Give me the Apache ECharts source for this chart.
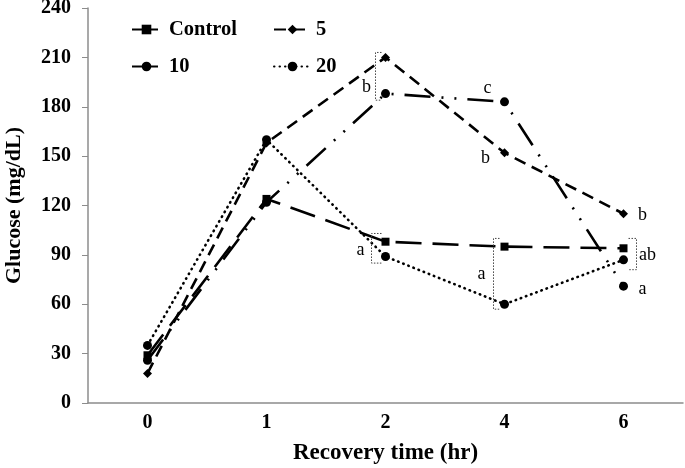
<!DOCTYPE html>
<html><head><meta charset="utf-8">
<script src="https://cdn.jsdelivr.net/npm/echarts@6/dist/echarts.min.js"></script>
<style>html,body{margin:0;padding:0;background:#fff}#c{width:685px;height:468px}</style>
</head><body><div id="c"></div>
<script>
const categories = ['0', '1', '2', '4', '6'];
const controlValues = [29, 124, 98, 95, 94];
const dose5Values = [18, 158, 210, 152, 115];
const dose10Values = [26, 122, 188, 183, 71];
const dose20Values = [35, 160, 89, 60, 87];
const yMin = 0, yMax = 240, yStep = 30;
// significance letters: [category, value, text]
const letterCats = ['2', '2', '4', '4', '4', '6', '6', '6'];
const letterVals = [192, 93, 191, 149, 78, 114, 90, 69];
const letterTexts = ['b', 'a', 'c', 'b', 'a', 'b', 'ab', 'a'];
// dotted brackets: [category, low, high]
const bracketCats = ['2', '2', '4', '6'];
const bracketLow = [184, 85, 57, 81];
const bracketHigh = [213, 103, 100, 100];

const letterDx = [-19, -25, -17, -19, -23, 19, 24, 19];
const bracketX0 = [-10, -14, -11, 13];
const bracketX1 = [-4, -4, -5, 5];

const FONT = 'Liberation Serif';
const chart = echarts.init(document.getElementById('c'), null, {renderer: 'canvas'});

function mk(name, data, symbol, size, dash, cap) {
  return {
    name, type: 'line', data, symbol, symbolSize: size, showSymbol: true,
    itemStyle: {color: '#000'},
    lineStyle: {color: '#000', width: 2.6, type: dash, cap: cap || 'butt'},
    emphasis: {disabled: true}, animation: false, z: 3
  };
}

const legendText1 = {fontFamily: FONT, fontWeight: 'bold', fontSize: 20.5, color: '#000', padding: [0, 0, 0, 3]};
const legendText2 = {fontFamily: FONT, fontWeight: 'bold', fontSize: 20.5, color: '#000', padding: [0, 0, 0, 0]};
chart.setOption({
  animation: false,
  backgroundColor: '#fff',
  grid: {left: 88, right: 2, top: 8, bottom: 65, containLabel: false, outerBoundsMode: 'none'},
  legend: [
    {data: ['Control', '10'], orient: 'vertical', left: 126, top: 14, itemWidth: 29, itemHeight: 12, itemGap: 16, textStyle: legendText1, selectedMode: false},
    {data: ['5', '20'], orient: 'vertical', left: 268, top: 14, itemWidth: 37, itemHeight: 12, itemGap: 16, textStyle: legendText2, selectedMode: false}
  ],
  xAxis: {
    type: 'category', data: categories, boundaryGap: true,
    axisLine: {lineStyle: {color: '#8c8c8c', width: 1.5}},
    axisTick: {show: false},
    axisLabel: {fontFamily: FONT, fontWeight: 'bold', fontSize: 20, color: '#000', margin: 10},
    name: 'Recovery time (hr)', nameLocation: 'middle', nameGap: 39,
    nameTextStyle: {fontFamily: FONT, fontWeight: 'bold', fontSize: 23, color: '#000'}
  },
  yAxis: {
    type: 'value', min: yMin, max: yMax, interval: yStep,
    axisLine: {show: true, lineStyle: {color: '#8c8c8c', width: 1.5}},
    axisTick: {show: true, length: 6, lineStyle: {color: '#8c8c8c'}},
    splitLine: {show: false},
    axisLabel: {fontFamily: FONT, fontWeight: 'bold', fontSize: 20, color: '#000', margin: 17},
    name: 'Glucose (mg/dL)', nameLocation: 'middle', nameGap: 63, nameRotate: 90,
    nameTextStyle: {fontFamily: FONT, fontWeight: 'bold', fontSize: 22, color: '#000'}
  },
  series: [
    mk('Control', controlValues, 'rect', 8, [26, 11]),
    mk('5', dose5Values, 'diamond', 9, [12, 7]),
    mk('10', dose10Values, 'circle', 9, [26, 11, 2, 11, 2, 11]),
    mk('20', dose20Values, 'circle', 9, [0.5, 5], 'round')
  ]
});

const graphics = [];
letterTexts.forEach((t, i) => {
  const p = chart.convertToPixel({gridIndex: 0}, [letterCats[i], letterVals[i]]);
  graphics.push({type: 'text', x: p[0] + letterDx[i], y: p[1], z: 10,
    style: {text: t, font: '18px "' + FONT + '"', fill: '#000', align: 'center', verticalAlign: 'middle'}});
});
bracketCats.forEach((c, i) => {
  const top = chart.convertToPixel({gridIndex: 0}, [c, bracketHigh[i]]);
  const bot = chart.convertToPixel({gridIndex: 0}, [c, bracketLow[i]]);
  const xa = top[0] + bracketX0[i], xb = top[0] + bracketX1[i];
  graphics.push({type: 'polyline', z: 9, shape: {points: [[xb, top[1]], [xa, top[1]], [xa, bot[1]], [xb, bot[1]]]},
    style: {stroke: '#444', lineWidth: 1, lineDash: [1.5, 1.5], fill: null}});
});
chart.setOption({graphic: graphics});
</script>
</body></html>
